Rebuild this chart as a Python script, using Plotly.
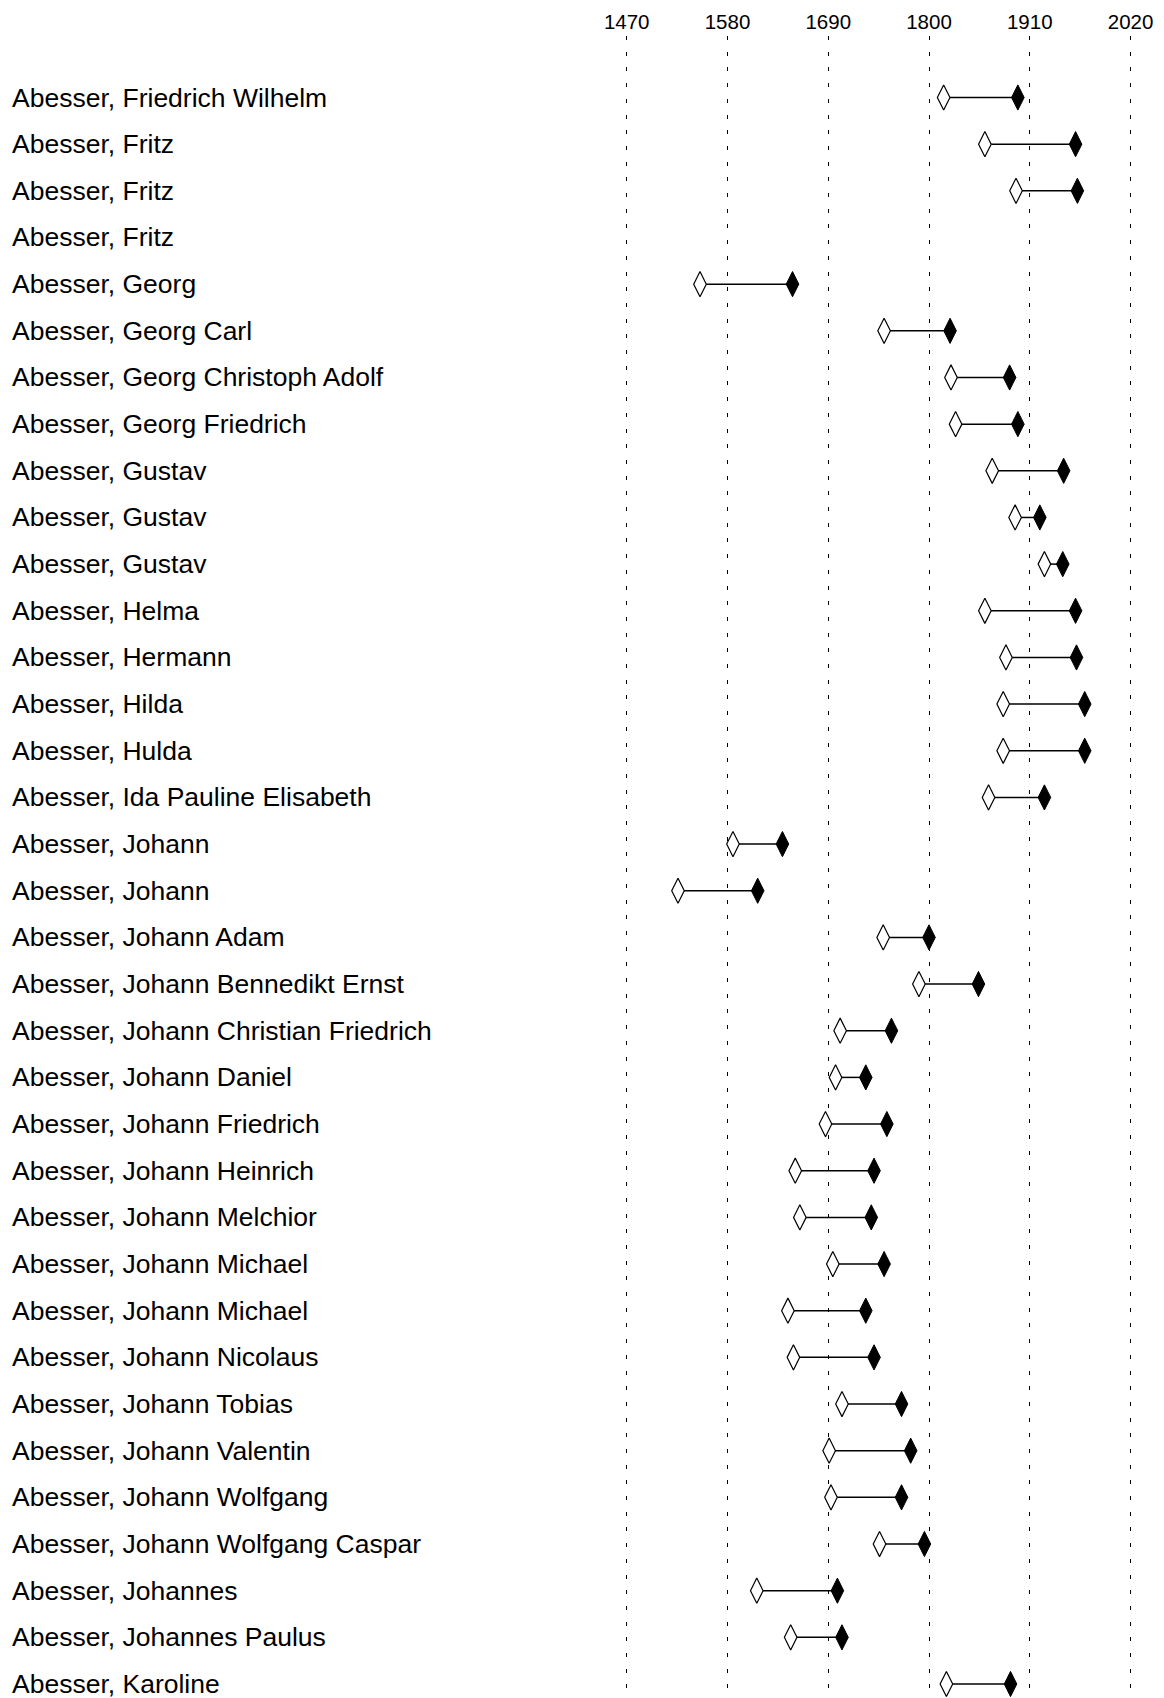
import plotly.graph_objects as go

names = [
    "Abesser, Friedrich Wilhelm", "Abesser, Fritz", "Abesser, Fritz", "Abesser, Fritz",
    "Abesser, Georg", "Abesser, Georg Carl", "Abesser, Georg Christoph Adolf",
    "Abesser, Georg Friedrich", "Abesser, Gustav", "Abesser, Gustav", "Abesser, Gustav",
    "Abesser, Helma", "Abesser, Hermann", "Abesser, Hilda", "Abesser, Hulda",
    "Abesser, Ida Pauline Elisabeth", "Abesser, Johann", "Abesser, Johann",
    "Abesser, Johann Adam", "Abesser, Johann Bennedikt Ernst",
    "Abesser, Johann Christian Friedrich", "Abesser, Johann Daniel",
    "Abesser, Johann Friedrich", "Abesser, Johann Heinrich", "Abesser, Johann Melchior",
    "Abesser, Johann Michael", "Abesser, Johann Michael", "Abesser, Johann Nicolaus",
    "Abesser, Johann Tobias", "Abesser, Johann Valentin", "Abesser, Johann Wolfgang",
    "Abesser, Johann Wolfgang Caspar", "Abesser, Johannes", "Abesser, Johannes Paulus",
    "Abesser, Karoline",
]

birth = [1816, 1861, 1895, None, 1550, 1751, 1824, 1829, 1869, 1894, 1926,
         1861, 1884, 1881, 1881, 1865, 1586, 1526, 1750, 1789, 1703, 1698,
         1687, 1654, 1659, 1695, 1646, 1652, 1705, 1691, 1693, 1746, 1612,
         1649, 1819]

death = [1897, 1960, 1962, None, 1651, 1823, 1888, 1897, 1947, 1921, 1946,
         1960, 1961, 1970, 1970, 1926, 1640, 1613, 1800, 1854, 1759, 1731,
         1754, 1740, 1737, 1751, 1731, 1740, 1770, 1780, 1770, 1795, 1700,
         1705, 1889]

tick_years = [1470, 1580, 1690, 1800, 1910, 2020]

rows = list(range(len(names)))

W, H = 1148, 1690

# connecting segments
seg_x, seg_y = [], []
for r, b, d in zip(rows, birth, death):
    if b is None or d is None:
        continue
    seg_x += [b, d, None]
    seg_y += [r, r, None]

fig = go.Figure()
fig.add_trace(go.Scatter(x=seg_x, y=seg_y, mode="lines",
                         line=dict(color="black", width=1.5),
                         hoverinfo="skip", showlegend=False))
fig.add_trace(go.Scatter(x=birth, y=rows, mode="markers",
                         marker=dict(symbol="diamond-tall", size=18, color="white",
                                     line=dict(color="black", width=1.2)),
                         showlegend=False, name="birth"))
fig.add_trace(go.Scatter(x=death, y=rows, mode="markers",
                         marker=dict(symbol="diamond-tall", size=18, color="black",
                                     line=dict(color="black", width=1)),
                         showlegend=False, name="death"))

for r, n in zip(rows, names):
    fig.add_annotation(x=2 / W, xref="paper", y=r, yref="y", text=n,
                       showarrow=False, xanchor="left", yanchor="middle",
                       font=dict(size=26.5, color="black",
                                 family="Arial, Liberation Sans, sans-serif"))

fig.update_layout(
    width=W, height=H,
    margin=dict(l=0, r=0, t=28, b=0),
    paper_bgcolor="white", plot_bgcolor="white",
    font=dict(family="Arial, Liberation Sans, sans-serif", color="black"),
    xaxis=dict(side="top", range=[794.6, 2047.8], tickvals=tick_years,
               ticktext=[str(t) for t in tick_years],
               showgrid=True, gridcolor="black", gridwidth=1, griddash="4px,11.7px",
               zeroline=False, showline=False, ticks="", ticklabelstandoff=2,
               tickfont=dict(size=20.5, color="black")),
    yaxis=dict(range=[34.30, -1.318], showticklabels=False, showgrid=False,
               zeroline=False, showline=False, ticks=""),
)

fig.write_html("out.html")
